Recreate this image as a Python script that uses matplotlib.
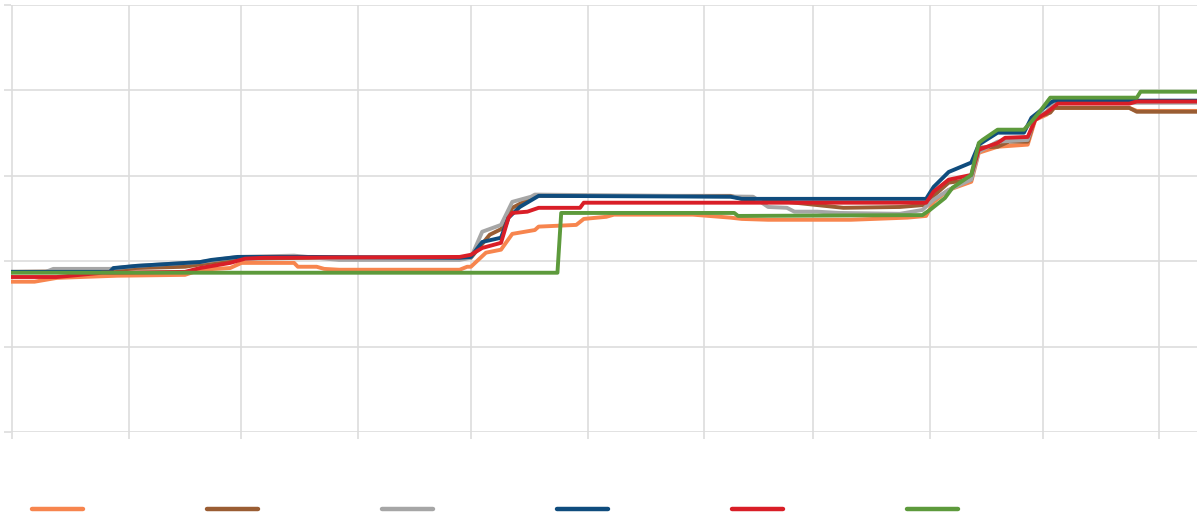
import pandas as pd
import matplotlib
matplotlib.use("Agg")
import matplotlib.pyplot as plt
import matplotlib.dates as mdates
from matplotlib.lines import Line2D

# breakpoints (date, value)
orange_dates = ["2019-08-01", "2019-08-07", "2019-08-13", "2019-08-29", "2019-09-16", "2019-09-20",
                "2019-09-28", "2019-10-01", "2019-10-15", "2019-10-16", "2019-10-21", "2019-10-23",
                "2019-10-27", "2019-11-28", "2019-11-30", "2019-12-01", "2019-12-05", "2019-12-09",
                "2019-12-12", "2019-12-18", "2019-12-19", "2019-12-29", "2019-12-31", "2020-01-06",
                "2020-01-08", "2020-01-29", "2020-02-08", "2020-02-11", "2020-02-18", "2020-03-11",
                "2020-03-17", "2020-03-26", "2020-03-31", "2020-04-02", "2020-04-06", "2020-04-12",
                "2020-04-14", "2020-04-19", "2020-04-27", "2020-04-29", "2020-05-02", "2020-05-04",
                "2020-05-24", "2020-05-26", "2020-06-11"]
orange_vals = [35.2, 35.2, 36.1, 36.6, 36.8, 38.0, 38.4, 39.6, 39.6, 38.7, 38.7, 38.2, 38.0, 38.0,
               38.7, 38.7, 42.0, 42.7, 46.4, 47.3, 48.1, 48.5, 49.9, 50.4, 50.9, 50.9, 50.2, 49.9,
               49.7, 49.7, 49.9, 50.2, 50.6, 53.9, 56.7, 58.6, 65.4, 66.8, 67.3, 73.1, 74.3, 75.9,
               75.9, 75.2, 75.2]

brown_dates = ["2019-08-01", "2019-08-27", "2019-09-03", "2019-09-16", "2019-09-30", "2019-10-20",
               "2019-11-28", "2019-12-01", "2019-12-06", "2019-12-09", "2019-12-12", "2019-12-18",
               "2020-02-08", "2020-02-11", "2020-02-23", "2020-03-09", "2020-03-24", "2020-03-31",
               "2020-04-02", "2020-04-06", "2020-04-12", "2020-04-14", "2020-04-19", "2020-04-22",
               "2020-04-27", "2020-04-29", "2020-05-03", "2020-05-04", "2020-05-24", "2020-05-26",
               "2020-06-11"]
brown_vals = [37.5, 37.7, 38.4, 38.7, 40.6, 40.8, 40.6, 40.8, 46.2, 47.5, 52.5, 55.3, 55.3, 54.6,
              53.9, 52.5, 52.7, 53.2, 55.3, 58.4, 59.1, 66.6, 66.8, 68.0, 68.0, 73.6, 74.8, 75.9,
              75.9, 75.0, 75.0]

gray_dates = ["2019-08-01", "2019-08-10", "2019-08-12", "2019-08-27", "2019-09-03", "2019-09-20",
              "2019-09-30", "2019-10-15", "2019-10-27", "2019-11-28", "2019-12-01", "2019-12-04",
              "2019-12-09", "2019-12-12", "2019-12-17", "2019-12-18", "2020-02-14", "2020-02-18",
              "2020-02-23", "2020-02-25", "2020-03-02", "2020-03-08", "2020-03-24", "2020-03-30",
              "2020-04-02", "2020-04-06", "2020-04-12", "2020-04-14", "2020-04-19", "2020-04-27",
              "2020-04-29", "2020-05-02", "2020-05-04", "2020-06-11"]
gray_vals = [37.5, 37.5, 38.2, 38.2, 38.9, 39.8, 41.0, 41.3, 40.3, 40.3, 40.8, 46.9, 48.5, 53.9,
             55.1, 55.6, 55.1, 52.7, 52.5, 51.6, 51.6, 51.3, 51.1, 52.0, 54.4, 56.7, 59.1, 65.6,
             68.0, 68.4, 73.8, 75.0, 77.1, 77.1]

blue_dates = ["2019-08-01", "2019-08-27", "2019-08-28", "2019-09-03", "2019-09-20", "2019-09-23",
              "2019-09-30", "2019-10-20", "2019-11-28", "2019-12-01", "2019-12-04", "2019-12-09",
              "2019-12-11", "2019-12-14", "2019-12-19", "2020-02-08", "2020-02-11", "2020-03-31",
              "2020-04-02", "2020-04-06", "2020-04-12", "2020-04-14", "2020-04-19", "2020-04-26",
              "2020-04-28", "2020-05-03", "2020-05-04", "2020-06-11"]
blue_vals = [37.5, 37.5, 38.4, 38.9, 39.8, 40.3, 41.0, 41.0, 40.8, 41.0, 44.5, 45.5, 50.2, 52.7,
             55.3, 55.1, 54.6, 54.6, 57.4, 60.9, 63.1, 67.3, 70.1, 70.1, 73.6, 77.1, 77.6, 77.6]

red_dates = ["2019-08-01", "2019-08-13", "2019-08-25", "2019-09-16", "2019-09-20", "2019-09-28",
             "2019-10-02", "2019-10-07", "2019-11-28", "2019-12-01", "2019-12-04", "2019-12-09",
             "2019-12-11", "2019-12-12", "2019-12-16", "2019-12-19", "2019-12-30", "2019-12-31",
             "2020-03-31", "2020-04-02", "2020-04-06", "2020-04-12", "2020-04-14", "2020-04-19",
             "2020-04-21", "2020-04-27", "2020-04-29", "2020-05-02", "2020-05-04", "2020-05-05",
             "2020-05-24", "2020-05-26", "2020-06-11"]
red_vals = [36.3, 36.3, 37.3, 37.5, 38.4, 39.6, 40.6, 40.8, 41.0, 41.5, 43.1, 44.3, 50.2, 51.3,
            51.6, 52.5, 52.5, 53.7, 53.7, 56.3, 59.1, 60.2, 66.1, 67.7, 68.9, 69.1, 73.1, 74.8,
            76.2, 76.9, 76.9, 77.4, 77.4]

green_dates = ["2019-08-01", "2019-12-24", "2019-12-25", "2020-02-09", "2020-02-10", "2020-03-30",
               "2020-04-01", "2020-04-05", "2020-04-07", "2020-04-12", "2020-04-14", "2020-04-15",
               "2020-04-19", "2020-04-26", "2020-04-28", "2020-04-30", "2020-05-03", "2020-05-26",
               "2020-05-27", "2020-06-11"]
green_vals = [37.3, 37.3, 51.3, 51.3, 50.6, 50.8, 52.0, 54.8, 57.2, 60.2, 67.7, 68.4, 70.8, 70.8,
              72.7, 74.8, 78.3, 78.3, 79.7, 79.7]

series = [
    (orange_dates, orange_vals, "#f7854e"),
    (brown_dates, brown_vals, "#9a5d33"),
    (gray_dates, gray_vals, "#a6a6a6"),
    (blue_dates, blue_vals, "#0f4c7d"),
    (red_dates, red_vals, "#d91e27"),
    (green_dates, green_vals, "#5d9a3c"),
]

grid_col = "#dddddd"

fig = plt.figure(figsize=(12.04, 5.21), dpi=100)
ax = fig.add_axes([11 / 1204, 89 / 521, 1186 / 1204, 427 / 521])

for d, v, c in series:
    ax.plot(pd.to_datetime(d), v, color=c, lw=2.8, solid_joinstyle="round", zorder=3)

ax.set_xlim(pd.Timestamp("2019-07-31 18:00"), pd.Timestamp("2020-06-11"))
ax.set_ylim(0, 100)
ax.set_yticks(range(0, 101, 20))
ax.xaxis.set_major_locator(mdates.MonthLocator())
ax.tick_params(axis="both", colors=grid_col, length=5, width=1.2,
               labelleft=False, labelbottom=False)
ax.grid(True, color=grid_col, lw=1.2)
for s in ax.spines.values():
    s.set_visible(False)

handles = [Line2D([0], [0], color=c, lw=3.2, solid_capstyle="round") for _, _, c in series]
fig.legend(handles, [""] * len(handles), ncol=6, frameon=False,
           loc="center left", bbox_to_anchor=(32 / 1204, 11 / 521),
           borderpad=0, borderaxespad=0, handlelength=3.7, handletextpad=0.8,
           columnspacing=8.1)

fig.savefig("out.png", dpi=100)
